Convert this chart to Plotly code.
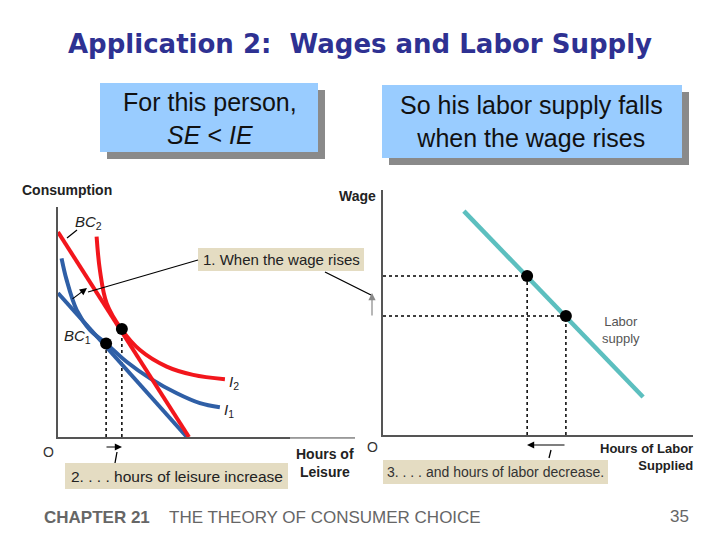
import plotly.graph_objects as go

W, H = 720, 540

# left panel: consumption vs hours of leisure (axis units 0-10)
bc1_x = [0, 4.34]
bc1_y = [6.26, 0]
bc2_x = [0, 4.41]
bc2_y = [8.91, 0]
i1_x = [0.12, 0.29, 0.63, 1.08, 1.62, 2.31, 3.10, 4.00, 4.78, 5.45]
i1_y = [7.77, 6.83, 5.52, 4.65, 4.07, 3.27, 2.55, 1.90, 1.47, 1.29]
i2_x = [1.30, 1.41, 1.64, 2.14, 2.76, 3.66, 4.55, 5.62]
i2_y = [8.71, 7.26, 5.81, 4.68, 3.78, 3.06, 2.70, 2.51]
opt_x = [1.62, 2.15]
opt_y = [4.07, 4.70]

# right panel: wage vs hours of labor supplied
ls_x = [2.61, 8.39]
ls_y = [9.14, 1.55]
wage_x = [4.65, 5.90]
wage_y = [6.49, 4.86]

RED = "#f2161c"
BLUE = "#2f5fa6"
TEAL = "#5cbfbf"
BEIGE = "#e4dcc2"
SKY = "#99ccff"
FONT = "Liberation Sans"


def px(x):
    return x / W


def py(y):
    return 1 - y / H


def drops(xs, ys, horiz=False):
    # dotted guide lines from the points down to the axes
    gx, gy = [], []
    for x, y in zip(xs, ys):
        gx += [x, x, None]
        gy += [0, y, None]
        if horiz:
            gx += [0, x, None]
            gy += [y, y, None]
    return gx, gy


fig = go.Figure()

dx, dy = drops(opt_x, opt_y)
fig.add_scatter(x=dx, y=dy, mode="lines", line=dict(color="black", width=1.5, dash="dot"))
fig.add_scatter(x=bc1_x, y=bc1_y, mode="lines", line=dict(color=BLUE, width=4))
fig.add_scatter(x=i1_x, y=i1_y, mode="lines", line=dict(color=BLUE, width=4, shape="spline"))
fig.add_scatter(x=bc2_x, y=bc2_y, mode="lines", line=dict(color=RED, width=4))
fig.add_scatter(x=i2_x, y=i2_y, mode="lines", line=dict(color=RED, width=4, shape="spline"))
fig.add_scatter(x=opt_x, y=opt_y, mode="markers", marker=dict(color="black", size=12))

dx, dy = drops(wage_x, wage_y, horiz=True)
fig.add_scatter(x=dx, y=dy, mode="lines", xaxis="x2", yaxis="y2",
                line=dict(color="black", width=1.5, dash="dot"))
fig.add_scatter(x=ls_x, y=ls_y, mode="lines", xaxis="x2", yaxis="y2",
                line=dict(color=TEAL, width=4.5))
fig.add_scatter(x=wage_x, y=wage_y, mode="markers", xaxis="x2", yaxis="y2",
                marker=dict(color="black", size=12))

ax_style = dict(range=[0, 10], showgrid=False, zeroline=False, showticklabels=False,
                showline=True, linecolor="#555", linewidth=1.5, fixedrange=True)

shapes = []
# blue boxes with drop shadows
for x0, y0, x1, y1 in [(100, 83, 318, 152), (382, 85, 682, 158)]:
    shapes.append(dict(type="rect", xref="paper", yref="paper", x0=px(x0 + 7), x1=px(x1 + 7),
                       y0=py(y0 + 7), y1=py(y1 + 7), fillcolor="#8a8a8a", line_width=0, layer="below"))
    shapes.append(dict(type="rect", xref="paper", yref="paper", x0=px(x0), x1=px(x1),
                       y0=py(y0), y1=py(y1), fillcolor=SKY, line_width=0, layer="below"))
# beige label boxes
for x0, y0, x1, y1 in [(198, 248, 364, 271), (65, 463, 288, 489), (383, 460, 608, 484)]:
    shapes.append(dict(type="rect", xref="paper", yref="paper", x0=px(x0), x1=px(x1),
                       y0=py(y0), y1=py(y1), fillcolor=BEIGE, line_width=0))
# faint tail of the leisure axis
shapes.append(dict(type="line", xref="paper", yref="paper", x0=px(290), x1=px(356),
                   y0=py(437), y1=py(437), line=dict(color="white", width=3)))
shapes.append(dict(type="line", xref="paper", yref="paper", x0=px(290), x1=px(355),
                   y0=py(437.5), y1=py(437.5), line=dict(color="#999", width=1)))
# leader lines
for x0, y0, x1, y1 in [(198, 260, 88, 292), (325, 272, 371, 295), (77, 230, 67, 238),
                       (117, 452, 115, 463), (551, 450, 549, 458)]:
    shapes.append(dict(type="line", xref="paper", yref="paper", x0=px(x0), x1=px(x1),
                       y0=py(y0), y1=py(y1), line=dict(color="black", width=1.3)))

ann = []


def text(x, y, s, size=14, color="#222", anchor="center", bold=False, family=FONT, align="center"):
    if bold:
        s = "<b>" + s.replace("<br>", "</b><br><b>") + "</b>"
    ann.append(dict(x=px(x), y=py(y), xref="paper", yref="paper", text=s, showarrow=False,
                    xanchor=anchor, yanchor="middle", align=align,
                    font=dict(size=size, color=color, family=family)))


def arrow(x0, y0, x1, y1, color="black"):
    ann.append(dict(x=px(x1), y=py(y1), xref="paper", yref="paper", text="", showarrow=True,
                    ax=x0 - x1, ay=y0 - y1, arrowhead=2, arrowsize=1.2, arrowwidth=1.2,
                    arrowcolor=color))


text(360, 44, "Application 2: &nbsp;Wages and Labor Supply", size=26, color="#2e3192",
     bold=True, family="DejaVu Sans")
text(210, 119, "For this person,<br><i>SE</i> &lt; <i>IE</i>", size=25, color="#111")
text(531, 121, "So his labor supply falls<br>when the wage rises", size=25, color="#111")

text(20, 190, "Consumption", size=14, bold=True, anchor="left")
text(357, 196, "Wage", size=14, bold=True)
text(88, 222, "<i>BC</i><sub>2</sub>", size=15)
text(77, 336, "<i>BC</i><sub>1</sub>", size=15)
text(234, 382, "<i>I</i><sub>2</sub>", size=15)
text(229, 410, "<i>I</i><sub>1</sub>", size=15)
text(48, 452, "O", size=14, color="#333")
text(372, 447, "O", size=14, color="#333")
text(325, 463, "Hours of<br>Leisure", size=14, bold=True)
text(695, 457, "Hours of Labor<br>Supplied", size=13, bold=True, anchor="right", align="right")
text(621, 330, "Labor<br>supply", size=13, color="#555")

text(281, 259, "1. When the wage rises", size=15)
text(177, 476, "2. . . . hours of leisure increase", size=15.5)
text(495, 472, "3. . . . and hours of labor decrease.", size=14, color="#333")

text(42, 517, "<b>CHAPTER 21</b>", size=17, color="#666", anchor="left")
text(167, 517, "THE THEORY OF CONSUMER CHOICE", size=17, color="#666", anchor="left")
text(691, 516, "35", size=17, color="#666", anchor="right")

arrow(71, 300, 87, 288)
arrow(105, 447, 122, 447)
arrow(372, 317, 372, 293, color="#888")
arrow(566, 445, 527, 445)

fig.update_layout(
    width=W, height=H, margin=dict(l=0, r=0, t=0, b=0),
    paper_bgcolor="white", plot_bgcolor="rgba(0,0,0,0)", showlegend=False,
    xaxis=dict(domain=[px(58), px(355)], anchor="y", **ax_style),
    yaxis=dict(domain=[py(437), py(207)], anchor="x", **ax_style),
    xaxis2=dict(domain=[px(383), px(693)], anchor="y2", **ax_style),
    yaxis2=dict(domain=[py(435), py(190)], anchor="x2", **ax_style),
    shapes=shapes, annotations=ann,
)

# drop the page's default body margin so the slide sits at the window origin
fig.write_html("out.html", config={"displayModeBar": False},
               post_script="document.body.style.margin='0px';")
